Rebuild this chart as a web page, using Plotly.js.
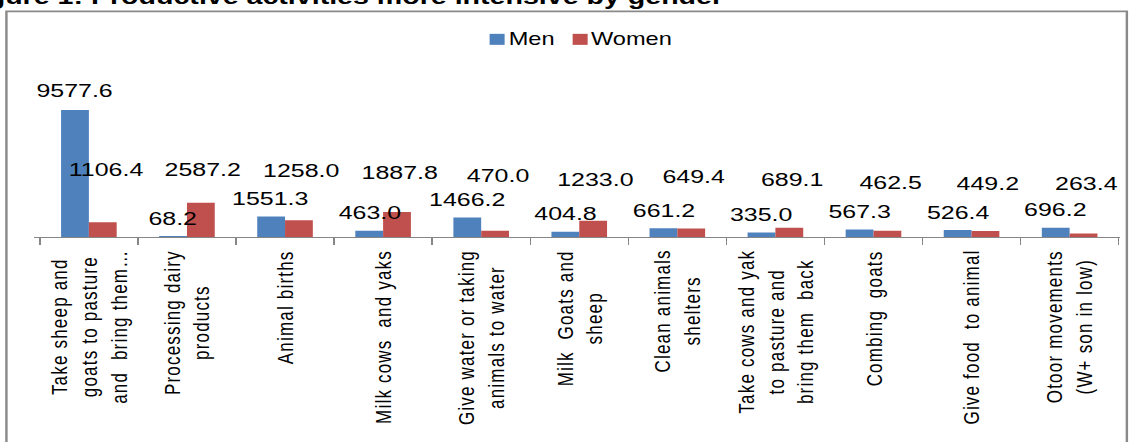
<!DOCTYPE html>
<html>
<head>
<meta charset="utf-8">
<script src="https://cdn.plot.ly/plotly-3.0.1.min.js"></script>
<style>
  html, body { margin: 0; padding: 0; overflow: hidden; background: #fff; }
  /* the source picture is stretched sideways, so the chart is drawn narrow and widened */
  #chart { width: 839px; height: 442px; transform: scaleX(1.34923); transform-origin: 0 0; }
</style>
</head>
<body>
<div id="chart"></div>
<script>
// datos de la figura
const categorias = [
  "Take sheep and<br>goats to pasture<br>and  bring them…",
  "Processing dairy<br>products",
  "Animal births",
  "Milk cows  and yaks",
  "Give water or taking<br>animals to water",
  "Milk  Goats and<br>sheep",
  "Clean animals<br>shelters",
  "Take cows and yak<br>to pasture and<br>bring them  back",
  "Combing  goats",
  "Give food  to animal",
  "Otoor movements<br>(W+ son in low)",
]
const series = ["Men", "Women"]
const hombres = [9577.6, 68.2, 1551.3, 463.0, 1466.2, 404.8, 661.2, 335.0, 567.3, 526.4, 696.2]
const mujeres = [1106.4, 2587.2, 1258.0, 1887.8, 470.0, 1233.0, 649.4, 689.1, 462.5, 449.2, 263.4]
const colores = ["#4f81bd", "#c0504d"]

// desplazamiento vertical (px) de las etiquetas de mujeres, tal como quedaron en el original
const alturaEtiquetaMujeres = [53, 33, 50, 39, 55, 41, 52, 48, 48, 48, 50]

const S = 1132 / 839
const W = 839, H = 442
const m = { l: 34.3 / S, r: 12 / S, t: 104, b: 205.3 }
const pw = W - m.l - m.r
const ph = H - m.t - m.b
// pixel de la imagen final -> coordenadas paper
const px = (x) => (x / S - m.l) / pw
const py = (y) => (H - m.b - y) / ph

const fuente = "Liberation Sans, Arial, sans-serif"
const ids = categorias.map((c, i) => "c" + i)

const trazas = [
  { x: ids, y: hombres, name: series[0], type: "bar", marker: { color: colores[0] } },
  { x: ids, y: mujeres, name: series[1], type: "bar", marker: { color: colores[1] } },
]

const anotaciones = []

// etiquetas de valores
ids.forEach((id, i) => {
  anotaciones.push({
    x: id, xref: "x", y: hombres[i], yref: "y",
    text: hombres[i].toFixed(1), showarrow: false,
    xshift: -14 / S, yshift: i === 0 ? 20 : 18, yanchor: "middle",
    font: { family: fuente, size: 18.5, color: "#000" },
  })
  anotaciones.push({
    x: id, xref: "x", y: mujeres[i], yref: "y",
    text: mujeres[i].toFixed(1), showarrow: false,
    xshift: 16.5 / S, yshift: alturaEtiquetaMujeres[i], yanchor: "middle",
    font: { family: fuente, size: 18.5, color: "#000" },
  })
})

// nombres de categorias, girados
categorias.forEach((c, i) => {
  const txt = c.split("<br>").map((l) => '<span style="letter-spacing:1.2px">' + l + "</span>").join("<br>")
  anotaciones.push({
    x: ids[i], xref: "x", y: 0, yref: "paper",
    text: txt, showarrow: false, textangle: -90, align: "center",
    xanchor: "center", yanchor: "top", yshift: -11,
    font: { family: fuente, size: 17, color: "#000" },
  })
})

// leyenda a mano (cuadro pegado al texto, como en Excel)
const leyenda = [{ x0: 490, x1: 505, tx: 506 }, { x0: 573, x1: 588, tx: 589 }]
const formas = []
series.forEach((s, i) => {
  formas.push({
    type: "rect", xref: "paper", yref: "paper",
    x0: px(leyenda[i].x0), x1: px(leyenda[i].x1), y0: py(45), y1: py(34),
    line: { width: 0 }, fillcolor: colores[i],
  })
  anotaciones.push({
    x: px(leyenda[i].tx), xref: "paper", y: py(39.5), yref: "paper",
    xanchor: "left", yanchor: "middle", showarrow: false, text: s,
    font: { family: fuente, size: 17.5, color: "#000" },
  })
})

// titulo recortado arriba
anotaciones.push({
  x: px(-40), xref: "paper", y: py(11.5), yref: "paper",
  xanchor: "left", yanchor: "bottom", showarrow: false,
  text: "<b>Figure 1: Productive activities more intensive by gender</b>",
  font: { family: fuente, size: 21.2, color: "#000" },
})

// marco del grafico
formas.push({
  type: "rect", xref: "paper", yref: "paper",
  x0: px(7), x1: px(1127), y0: py(11.5), y1: py(480),
  line: { color: "#8a8a8a", width: 1.8 }, fillcolor: "rgba(0,0,0,0)", layer: "below",
})

const layout = {
  width: W, height: H,
  margin: m,
  paper_bgcolor: "#fff", plot_bgcolor: "rgba(0,0,0,0)",
  barmode: "group", bargap: 0.433, bargroupgap: 0,
  showlegend: false,
  xaxis: {
    type: "category", tickson: "boundaries", ticks: "outside", ticklen: 7,
    tickcolor: "#868686", showline: true, linecolor: "#868686", linewidth: 1,
    showticklabels: false, showgrid: false, zeroline: false,
  },
  yaxis: { range: [0, 10031], visible: false, fixedrange: true },
  shapes: formas,
  annotations: anotaciones,
}

Plotly.newPlot("chart", trazas, layout, { staticPlot: true, displayModeBar: false })
</script>
</body>
</html>
